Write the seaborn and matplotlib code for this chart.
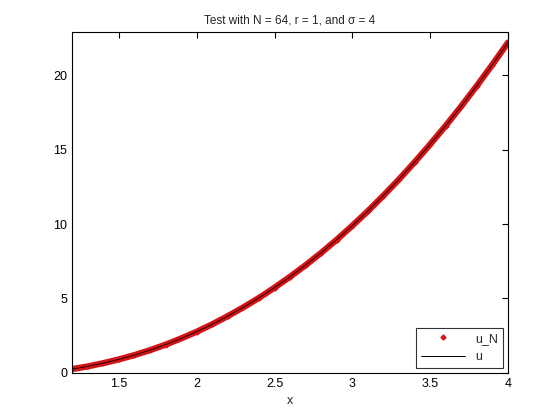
import matplotlib
matplotlib.use("Agg")
import matplotlib.pyplot as plt
import seaborn as sns

# values
x_vals = [1.2, 1.3, 1.4, 1.5, 1.6, 1.7, 1.8, 1.9, 2.0, 2.1, 2.2, 2.3, 2.4, 2.5,
          2.6, 2.7, 2.8, 2.9, 3.0, 3.1, 3.2, 3.3, 3.4, 3.5, 3.6, 3.7, 3.8, 3.9, 4.0]
u_vals = [0.26, 0.44, 0.66, 0.91, 1.20, 1.53, 1.90, 2.32, 2.77, 3.27, 3.82, 4.41,
          5.04, 5.73, 6.46, 7.24, 8.07, 8.95, 9.89, 10.87, 11.91, 13.00, 14.15,
          15.35, 16.60, 17.91, 19.28, 20.70, 22.18]
xticks = [1.5, 2, 2.5, 3, 3.5, 4]
yticks = [0, 5, 10, 15, 20]
title = "Test with N = 64, r = 1, and σ = 4"

sns.set_style("white")
plt.rcParams["font.family"] = ["Liberation Sans", "DejaVu Sans"]
plt.rcParams["xtick.direction"] = "in"
plt.rcParams["ytick.direction"] = "in"

fig = plt.figure(figsize=(5.6, 4.2), dpi=100)
ax = fig.add_axes([0.129, 0.112, 0.778, 0.812])

# u_N: dense red dots, drawn as a red band plus markers
sns.lineplot(x=x_vals, y=u_vals, ax=ax, color="#d41414", lw=4.5, sort=False)
ax.plot(x_vals, u_vals, ls="none", marker="D", ms=2.5, color="#d41414", label="u_N")
# exact solution u
sns.lineplot(x=x_vals, y=u_vals, ax=ax, color="#300000", lw=0.7, label="u", sort=False)

ax.set_xlim(1.2, 4)
ax.set_ylim(0, 22.9)
ax.set_xticks(xticks)
ax.set_xticklabels(["1.5", "2", "2.5", "3", "3.5", "4"])
ax.set_yticks(yticks)
ax.tick_params(labelsize=9, length=4, width=0.8, top=True, right=True, colors="black")
for s in ax.spines.values():
    s.set_visible(True)
    s.set_color("black")
    s.set_linewidth(0.8)

ax.set_xlabel("x", fontsize=9)
ax.set_title(title, fontsize=8.5)

leg = ax.legend(loc="lower right", fontsize=9, frameon=True, fancybox=False,
                edgecolor="black", handlelength=3.5, borderaxespad=0.4)
leg.get_frame().set_linewidth(0.8)
leg.legend_handles[1].set_color("black")

fig.savefig("out.png", dpi=100)
